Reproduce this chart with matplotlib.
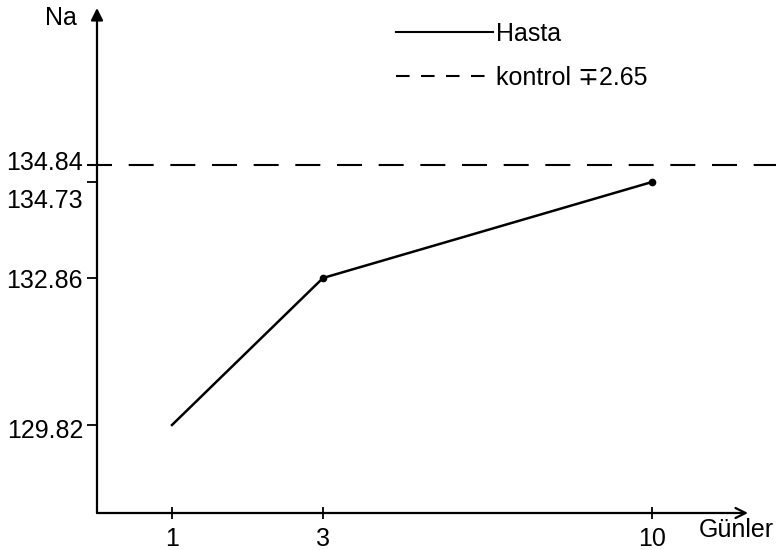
import numpy as np
from matplotlib import pyplot as plt
from matplotlib.lines import Line2D
from matplotlib.scale import FuncScale
from matplotlib.transforms import ScaledTranslation

# Na values per day (hand drawn chart)
days = [1, 3, 10]
na_hasta = [129.82, 132.86, 134.73]
na_kontrol = 134.84
kontrol_sd = 2.65

x_ticks = [1, 3, 10]
y_ticks = [129.82, 132.86, 134.73, 134.84]
y_tick_labels = ["129.82", "132.86", "134.73", "134.84"]

# the axes in the original are not evenly spaced, so map values
# onto the spacing used in the drawing (piecewise linear)
x_src = [0, 1, 3, 10, 12.05]
x_dst = [0, 75, 226, 555, 651]
y_src = [128.0, 129.82, 132.86, 134.73, 134.84, 137.95]
y_dst = [0, 88, 235, 331, 348, 505]


def make_scale(src, dst):
    def forward(v):
        return np.interp(v, src, dst)

    def inverse(v):
        return np.interp(v, dst, src)
    return forward, inverse


plt.rcParams["font.family"] = ["Liberation Sans", "DejaVu Sans"]
plt.rcParams["font.size"] = 18

fig = plt.figure(figsize=(7.76, 5.5), dpi=100)
ax = fig.add_axes([97 / 776, 37 / 550, 651 / 776, 505 / 550])

ax.set_xscale(FuncScale(ax.xaxis, make_scale(x_src, x_dst)))
ax.set_yscale(FuncScale(ax.yaxis, make_scale(y_src, y_dst)))
ax.set_xlim(x_src[0], x_src[-1])
ax.set_ylim(y_src[0], y_src[-1])

ax.plot(days, na_hasta, color="black", lw=1.8)
ax.plot(days[1:], na_hasta[1:], "o", color="black", ms=4.5)
ax.axhline(na_kontrol, xmin=-0.015, xmax=1.05, color="black", lw=1.5,
           dashes=(12, 8), clip_on=False)

# axes drawn as arrows
for s in ax.spines.values():
    s.set_visible(False)
ax.annotate("", xy=(1, 0), xytext=(0, 0), xycoords="axes fraction",
            arrowprops=dict(arrowstyle="->", lw=1.6, color="black",
                            mutation_scale=18, shrinkA=0, shrinkB=0))
ax.annotate("", xy=(0, 1), xytext=(0, 0), xycoords="axes fraction",
            arrowprops=dict(arrowstyle="-|>", lw=1.6, color="black",
                            mutation_scale=18, shrinkA=0, shrinkB=0))

ax.set_xticks(x_ticks)
ax.set_xticklabels([str(d) for d in x_ticks])
ax.set_yticks(y_ticks)
ax.set_yticklabels(y_tick_labels)
ax.tick_params(axis="x", direction="inout", length=8, width=1.3, pad=6)
ax.tick_params(axis="y", direction="out", length=7, width=1.3, pad=3)
ax.minorticks_off()

# labels sit a little off their ticks in the drawing (px, down is +)
label_shift = [4, 0, 16, -4]
for lab, dy in zip(ax.get_yticklabels(), label_shift):
    off = ScaledTranslation(0, -dy / 100, fig.dpi_scale_trans)
    lab.set_transform(lab.get_transform() + off)

ax.text(-0.055, 0.98, "Na", ha="center", va="center",
        transform=ax.transAxes, fontsize=18)
ax.text(0.982, -0.034, "Günler", ha="center", va="center",
        transform=ax.transAxes, fontsize=18)

handles = [
    Line2D([], [], color="black", lw=1.5),
    Line2D([], [], color="black", lw=1.5, dashes=(6.5, 5.5)),
]
labels = ["Hasta", f"kontrol \u2213{kontrol_sd}"]
ax.legend(handles, labels, loc="upper left", bbox_to_anchor=(0.44, 0.998),
          frameon=False, borderpad=0, handlelength=3.9, handletextpad=0.1,
          labelspacing=0.8, fontsize=18)

fig.savefig("out.png", dpi=100)
